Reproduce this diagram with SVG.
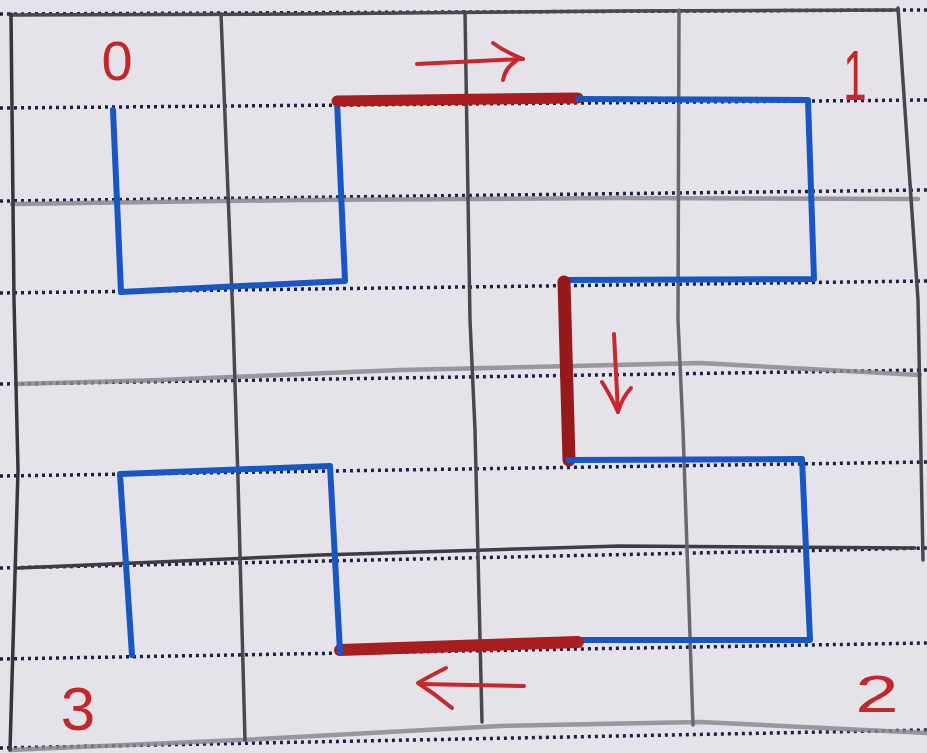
<svg xmlns="http://www.w3.org/2000/svg" width="927" height="753" viewBox="0 0 927 753">
  <style>
    .dot { fill: none; stroke: #1b2140; stroke-width: 3.5; stroke-dasharray: 3 4; }
    .pen { fill: none; stroke: #4a484e; stroke-width: 3.5; stroke-linecap: round; stroke-linejoin: round; }
    .pen-l { fill: none; stroke: #8c8a90; stroke-width: 4.5; stroke-linecap: round; opacity: 0.85; }
    .blue { fill: none; stroke: #1857c2; stroke-width: 6; stroke-linecap: round; stroke-linejoin: round; }
    .red { fill: none; stroke: #a81d20; stroke-linecap: round; stroke-linejoin: round; }
    .arrow { fill: none; stroke: #c42a2e; stroke-width: 4; stroke-linecap: round; stroke-linejoin: round; }
    .lbl { fill: #c0282c; font-family: "Liberation Sans", "DejaVu Sans", sans-serif; text-anchor: middle; }
  </style>
  <rect x="0" y="0" width="927" height="753" fill="#e5e3e9"/>

  <g id="grid-dotted">
    <path class="dot" d="M0,14 L927,10"/>
    <path class="dot" d="M0,108 L927,100"/>
    <path class="dot" d="M0,201 L927,190"/>
    <path class="dot" d="M0,293 L927,281"/>
    <path class="dot" d="M0,384 L927,370"/>
    <path class="dot" d="M0,476 L927,462"/>
    <path class="dot" d="M0,568 L927,548"/>
    <path class="dot" d="M0,659 L927,643"/>
    <path class="dot" d="M0,748 L927,730"/>
  </g>

  <g id="grid-pencil">
    <path class="pen" d="M10,15 L300,14 L620,11 L898,10"/>
    <path class="pen-l" d="M12,204 L300,200 L620,198 L918,199"/>
    <path class="pen-l" d="M16,384 L160,380 L400,370 L700,363 L920,375"/>
    <path class="pen" d="M18,568 L320,555 L620,546 L915,548" style="stroke:#3e3c42"/>
    <path class="pen-l" d="M10,750 L240,740 L500,726 L700,722 L927,733"/>
    <path class="pen" d="M11,14 L14,300 L18,470 L10,750" style="stroke:#38363c"/>
    <path class="pen" d="M221,14 L233,320 L238,480 L245,740"/>
    <path class="pen" d="M465,12 L470,320 L475,430 L482,722"/>
    <path class="pen" d="M679,10 L678,320 L683,430 L693,725" style="stroke:#6a686e"/>
    <path class="pen" d="M898,8 L918,300 L923,560" style="stroke:#48464c"/>
  </g>

  <g id="route">
    <path class="blue" d="M113,110 L121,292 L345,281 L337,101"/>
    <path class="red" d="M337,101 L578,98" style="stroke-width:11"/>
    <path class="blue" d="M578,99 L808,100 L814,279 L563,280"/>
    <path class="red" d="M564,282 L569,460" style="stroke-width:13;stroke:#961a1c"/>
    <path class="blue" d="M569,460 L802,459 L810,640 L578,640"/>
    <path class="red" d="M578,642 L340,650" style="stroke-width:12"/>
    <path class="blue" d="M340,652 L330,466 L120,474 L132,655"/>
  </g>

  <g id="arrows">
    <path class="arrow" d="M417,64 L523,59"/>
    <path class="arrow" d="M493,43 Q505,52 523,59 M503,80 Q505,68 516,61"/>
    <path class="arrow" d="M614,334 L618,412"/>
    <path class="arrow" d="M602,382 Q612,398 618,412 Q622,398 631,388"/>
    <path class="arrow" d="M524,686 L420,684"/>
    <path class="arrow" d="M446,668 Q430,676 418,683 Q435,694 452,708"/>
  </g>

  <g id="labels">
    <text class="lbl" x="117" y="80" font-size="56">0</text>
    <text class="lbl" transform="translate(855,0) scale(0.6,1)" x="0" y="100" font-size="70">1</text>
    <text class="lbl" transform="translate(877,0) scale(1.5,1)" x="0" y="712" font-size="52">2</text>
    <text class="lbl" x="78" y="730" font-size="62">3</text>
  </g>
</svg>
